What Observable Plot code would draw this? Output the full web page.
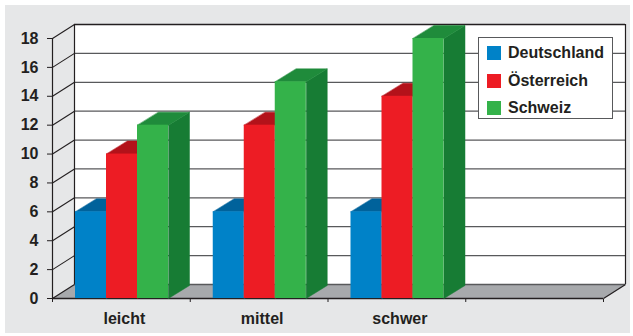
<!DOCTYPE html>
<html><head><meta charset="utf-8">
<script src="https://cdn.jsdelivr.net/npm/d3@7"></script>
<script src="https://cdn.jsdelivr.net/npm/@observablehq/plot@0.6"></script>
<style>
body{margin:0;background:#fff;}
#wrap{position:relative;width:633px;height:336px;background:#fff;overflow:hidden;font-family:"Liberation Sans",Arial,sans-serif;}
#panel{position:absolute;left:5px;top:5px;width:625px;height:328px;background:#e6e7e8;}
#chart{position:absolute;left:0;top:0;}
#legend{position:absolute;left:478px;top:37px;width:133px;height:80px;background:#fff;border:1px solid #58595b;}
.row{position:absolute;left:8px;height:20px;display:flex;align-items:center;font-weight:bold;font-size:16px;color:#231f20;white-space:nowrap;}
.sw{width:14px;height:14px;margin-right:7px;}
</style></head>
<body>
<div id="wrap"><div id="panel"></div><div id="chart"></div><div id="legend"></div></div>
<script>
// ---- data ----
const categories = ["leicht", "mittel", "schwer"];
const series = ["Deutschland", "Österreich", "Schweiz"];
const deutschland = [6, 6, 6];
const oesterreich = [10, 12, 14];
const schweiz = [12, 15, 18];
const frontColors = ["#0082c8", "#ed1c24", "#34b24a"];
const topColors = ["#00629b", "#b3121a", "#1f8b3b"];
const sideColors = ["#00568a", "#9e1018", "#177c34"];
const yTicks = [0, 2, 4, 6, 8, 10, 12, 14, 16, 18];

// ---- layout ----
const W = 633, H = 336;
const mL = 52, mR = 30, mT = 38, mB = 38;
const slots = 4;               // 3 categories + one empty slot
const yMax = 18;
const pxX = (W - mL - mR) / slots;   // px per slot
const pxY = (H - mT - mB) / yMax;    // px per unit
const wallDXpx = 22, wallDYpx = 14, barDXpx = 21, barDYpx = 13;
const WDX = wallDXpx / pxX, WDY = wallDYpx / pxY;
const BDX = barDXpx / pxX, BDY = barDYpx / pxY;
const PAD = 23 / pxX, BW = 31 / pxX;

const values = [deutschland, oesterreich, schweiz];
const bars = [];
categories.forEach((c, i) => series.forEach((s, j) => {
  const x0 = i + PAD + j * BW;
  bars.push({id: `${i}-${j}`, x0, x1: x0 + BW, v: values[j][i], j});
}));
const poly = (kind) => bars.flatMap(b => {
  const pts = kind === "top"
    ? [[b.x0, b.v], [b.x1, b.v], [b.x1 + BDX, b.v + BDY], [b.x0 + BDX, b.v + BDY]]
    : [[b.x1, 0], [b.x1 + BDX, BDY], [b.x1 + BDX, b.v + BDY], [b.x1, b.v]];
  const col = (kind === "top" ? topColors : sideColors)[b.j];
  return pts.map(([x, y]) => ({id: b.id, x, y, col}));
});
const floorPts = [[0, 0], [slots, 0], [slots + WDX, WDY], [WDX, WDY]].map(([x, y]) => ({id: "floor", x, y, col: "#a7a9ac"}));

const ink = "#231f20";
const chart = Plot.plot({
  width: W, height: H,
  marginLeft: mL, marginRight: mR, marginTop: mT, marginBottom: mB,
  style: {fontFamily: "Liberation Sans, Arial, sans-serif", fontSize: "16px", fontWeight: "bold", color: ink, background: "transparent", overflow: "visible"},
  x: {domain: [0, slots], ticks: [0, 1, 2, 3, 4], tickFormat: () => "", tickSize: 4, label: null},
  y: {domain: [0, yMax], ticks: yTicks, tickSize: 5, tickPadding: 9, label: null},
  color: {type: "identity"},
  marks: [
    // back wall
    Plot.rect([{a: 0, b: slots, c: 0, d: yMax}], {x1: "a", x2: "b", y1: "c", y2: "d", dx: wallDXpx, dy: -wallDYpx, fill: "white"}),
    // floor
    Plot.line(floorPts, {x: "x", y: "y", z: "id", fill: "col", stroke: "col", strokeWidth: 0.5, curve: "linear-closed"}),
    // back wall gridlines
    Plot.ruleY(yTicks.slice(0, -1), {x1: 0, x2: slots, dx: wallDXpx, dy: -wallDYpx, stroke: "#58595b", strokeWidth: 1.3}),
    Plot.ruleY([yMax], {x1: 0, x2: slots, dx: wallDXpx, dy: -wallDYpx, stroke: ink, strokeWidth: 1.3}),
    Plot.ruleX([0, slots], {y1: 0, y2: yMax, dx: wallDXpx, dy: -wallDYpx, stroke: ink, strokeWidth: 1.2}),
    // left diagonals
    Plot.link(yTicks, {x1: 0, y1: d => d, x2: WDX, y2: d => d + WDY, stroke: ink, strokeWidth: 1.1}),
    // floor right diagonal & front edge
    Plot.link([0], {x1: slots, y1: 0, x2: slots + WDX, y2: WDY, stroke: ink, strokeWidth: 1.2}),
    Plot.ruleY([0], {x1: 0, x2: slots, stroke: ink, strokeWidth: 1.3}),
    // bars
    Plot.line(poly("side"), {x: "x", y: "y", z: "id", fill: "col", stroke: "col", strokeWidth: 0.5, curve: "linear-closed"}),
    Plot.line(poly("top"), {x: "x", y: "y", z: "id", fill: "col", stroke: "col", strokeWidth: 0.5, curve: "linear-closed"}),
    Plot.rect(bars, {x1: "x0", x2: "x1", y1: 0, y2: "v", fill: d => frontColors[d.j]}),
    // front axis
    Plot.ruleX([0], {y1: 0, y2: yMax, stroke: ink, strokeWidth: 1.2}),
    // category labels
    Plot.text(categories, {x: (d, i) => i + 0.5, y: 0, text: d => d, dy: 20, dx: 3, fill: ink, fontSize: 16, fontWeight: "bold"})
  ]
});
document.getElementById("chart").appendChild(chart);

// legend
const legend = document.getElementById("legend");
series.forEach((s, j) => {
  const row = document.createElement("div");
  row.className = "row";
  row.style.top = (5 + j * 27.5) + "px";
  row.innerHTML = `<span class="sw" style="background:${frontColors[j]}"></span>${s}`;
  legend.appendChild(row);
});
</script>
</body></html>
